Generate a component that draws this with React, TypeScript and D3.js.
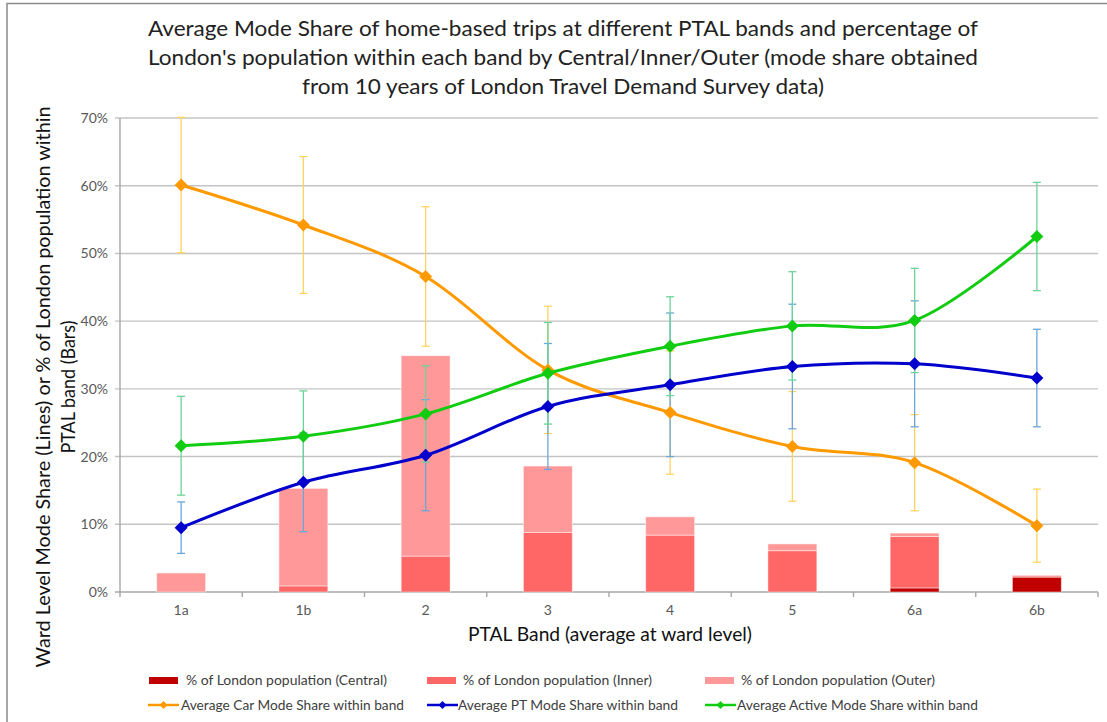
import React from 'react';
import * as d3 from 'd3';

const categories = ['1a', '1b', '2', '3', '4', '5', '6a', '6b'];
const centralPop = [0, 0, 0, 0, 0, 0, 0.6, 2.2];
const innerPop = [0, 0.9, 5.3, 8.8, 8.4, 6.1, 7.6, 0.2];
const outerPop = [2.8, 14.4, 29.6, 9.8, 2.7, 1.0, 0.5, 0.1];

const carShare = [60.1, 54.2, 46.6, 32.8, 26.5, 21.5, 19.1, 9.8];
const carErr = [10.0, 10.1, 10.3, 9.4, 9.1, 8.1, 7.1, 5.4];
const ptShare = [9.5, 16.2, 20.2, 27.4, 30.6, 33.3, 33.7, 31.6];
const ptErr = [3.8, 7.3, 8.2, 9.3, 10.6, 9.2, 9.3, 7.2];
const activeShare = [21.6, 23.0, 26.3, 32.3, 36.3, 39.3, 40.1, 52.5];
const activeErr = [7.3, 6.7, 7.1, 7.5, 7.3, 8.0, 7.7, 8.0];

const yTicks = [0, 10, 20, 30, 40, 50, 60, 70];

const titleLines = [
  "Average Mode Share of home-based trips at different PTAL bands and percentage of",
  "London's population within each band by Central/Inner/Outer (mode share obtained",
  "from 10 years of London Travel Demand Survey data)",
];

const FONT = 'Lato, "Open Sans", sans-serif';

export default function App() {
  const x = d3.scaleBand<string>().domain(categories).range([120, 1098]).padding(0);
  const y = d3.scaleLinear().domain([0, 70]).range([592, 118]);
  const bw = x.bandwidth() * 0.4;
  const cx = (c: string) => (x(c) as number) + x.bandwidth() / 2;

  const table = categories.map((c, i) => ({ cat: c, central: centralPop[i], inner: innerPop[i], outer: outerPop[i] }));
  const stack = d3.stack<any>().keys(['central', 'inner', 'outer'])(table);
  const barColors: Record<string, string> = { central: '#C00000', inner: '#FF6666', outer: '#FF9999' };

  const line = d3
    .line<number>()
    .x((_, i) => cx(categories[i]))
    .y((d) => y(d))
    .curve(d3.curveCardinal.tension(0));

  const series = [
    { key: 'car', values: carShare, err: carErr, color: '#FF9900', errColor: '#FFD45E' },
    { key: 'pt', values: ptShare, err: ptErr, color: '#0000CC', errColor: '#6AA6DC' },
    { key: 'active', values: activeShare, err: activeErr, color: '#11CC11', errColor: '#6CD39A' },
  ];

  const diamond = (px: number, py: number, r: number) =>
    `M${px},${py - r}L${px + r},${py}L${px},${py + r}L${px - r},${py}Z`;

  const legendBars = [
    { label: '% of London population (Central)', color: barColors.central, x: 149, tx: 186, tw: 201 },
    { label: '% of London population (Inner)', color: barColors.inner, x: 427, tx: 463, tw: 189 },
    { label: '% of London population (Outer)', color: barColors.outer, x: 705, tx: 741, tw: 194 },
  ];
  const legendLines = [
    { label: 'Average Car Mode Share within band', color: '#FF9900', x: 148, tx: 181, tw: 223 },
    { label: 'Average PT Mode Share within band', color: '#0000CC', x: 427, tx: 458, tw: 220 },
    { label: 'Average Active Mode Share within band', color: '#11CC11', x: 705, tx: 737, tw: 241 },
  ];

  return (
    <svg
      width={1107}
      height={722}
      style={{ position: 'absolute', left: 0, top: 0, background: '#fff' }}
      fontFamily={FONT}
    >
      <rect x={0} y={0} width={1107} height={722} fill="#fff" />
      {/* frame */}
      <path d="M7,730 L7,3.5 L1110,3.5" fill="none" stroke="#8a8a8a" strokeWidth={1.5} />

      {/* title */}
      {titleLines.map((t, i) => (
        <text
          key={i}
          x={563}
          y={36 + i * 29}
          textAnchor="middle"
          fontSize={22}
          fill="#222"
          textLength={i === 2 ? 522 : 830}
          lengthAdjust="spacingAndGlyphs"
        >
          {t}
        </text>
      ))}

      {/* gridlines */}
      {yTicks.map((t) => (
        <g key={t}>
          <line x1={115} x2={t === 0 ? 1098 : 1098} y1={y(t)} y2={y(t)} stroke={t === 0 ? '#A6A6A6' : '#C4C4C4'} strokeWidth={1.4} />
          <text x={108} y={y(t) + 5} textAnchor="end" fontSize={14} fill="#595959">
            {t}%
          </text>
        </g>
      ))}
      <line x1={120} x2={120} y1={y(70)} y2={y(0)} stroke="#A6A6A6" strokeWidth={1.4} />
      {categories.concat(['end']).map((c, i) => {
        const xx = 120 + i * x.bandwidth();
        return <line key={c} x1={xx} x2={xx} y1={y(0)} y2={y(0) + 5} stroke="#A6A6A6" strokeWidth={1.4} />;
      })}
      {categories.map((c) => (
        <text key={c} x={cx(c)} y={615} textAnchor="middle" fontSize={14} fill="#595959">
          {c}
        </text>
      ))}

      {/* bars */}
      {stack.map((layer) => (
        <g key={layer.key} fill={barColors[layer.key]}>
          {layer.map((d, i) =>
            d[1] - d[0] > 0 ? (
              <rect
                key={i}
                x={cx(categories[i]) - bw / 2}
                y={y(d[1])}
                width={bw}
                height={y(d[0]) - y(d[1])}
                stroke="rgba(255,255,255,0.45)"
                strokeWidth={1}
              />
            ) : null
          )}
        </g>
      ))}

      {/* error bars */}
      {series.map((s) => (
        <g key={s.key + 'err'} stroke={s.errColor} strokeWidth={1.3}>
          {s.values.map((v, i) => {
            const px = cx(categories[i]);
            const lo = y(v - s.err[i]);
            const hi = y(v + s.err[i]);
            return (
              <g key={i}>
                <line x1={px} x2={px} y1={lo} y2={hi} />
                <line x1={px - 4} x2={px + 4} y1={lo} y2={lo} />
                <line x1={px - 4} x2={px + 4} y1={hi} y2={hi} />
              </g>
            );
          })}
        </g>
      ))}

      {/* lines */}
      {series.map((s) => (
        <g key={s.key}>
          <path d={line(s.values) as string} fill="none" stroke={s.color} strokeWidth={3} />
          {s.values.map((v, i) => (
            <path key={i} d={diamond(cx(categories[i]), y(v), 6.5)} fill={s.color} />
          ))}
        </g>
      ))}

      {/* axis titles */}
      <text
        x={610}
        y={641}
        textAnchor="middle"
        fontSize={20}
        fill="#111"
        textLength={284}
        lengthAdjust="spacingAndGlyphs"
      >
        PTAL Band (average at ward level)
      </text>
      <g transform="translate(50,387) rotate(-90)">
        <text x={0} y={0} textAnchor="middle" fontSize={20} fill="#111" textLength={561} lengthAdjust="spacingAndGlyphs">
          Ward Level Mode Share (Lines) or % of London population within
        </text>
        <text x={0} y={25} textAnchor="middle" fontSize={20} fill="#111" textLength={133} lengthAdjust="spacingAndGlyphs">
          PTAL band (Bars)
        </text>
      </g>

      {/* legend */}
      {legendBars.map((l) => (
        <g key={l.label}>
          <rect x={l.x} y={677} width={29} height={7} fill={l.color} />
          <text x={l.tx} y={685} fontSize={14} fill="#404040" textLength={l.tw} lengthAdjust="spacingAndGlyphs">
            {l.label}
          </text>
        </g>
      ))}
      {legendLines.map((l) => (
        <g key={l.label}>
          <line x1={l.x} x2={l.x + 31} y1={705} y2={705} stroke={l.color} strokeWidth={2.5} />
          <path d={diamond(l.x + 15.5, 705, 4)} fill={l.color} />
          <text x={l.tx} y={710} fontSize={14} fill="#404040" textLength={l.tw} lengthAdjust="spacingAndGlyphs">
            {l.label}
          </text>
        </g>
      ))}
    </svg>
  );
}
